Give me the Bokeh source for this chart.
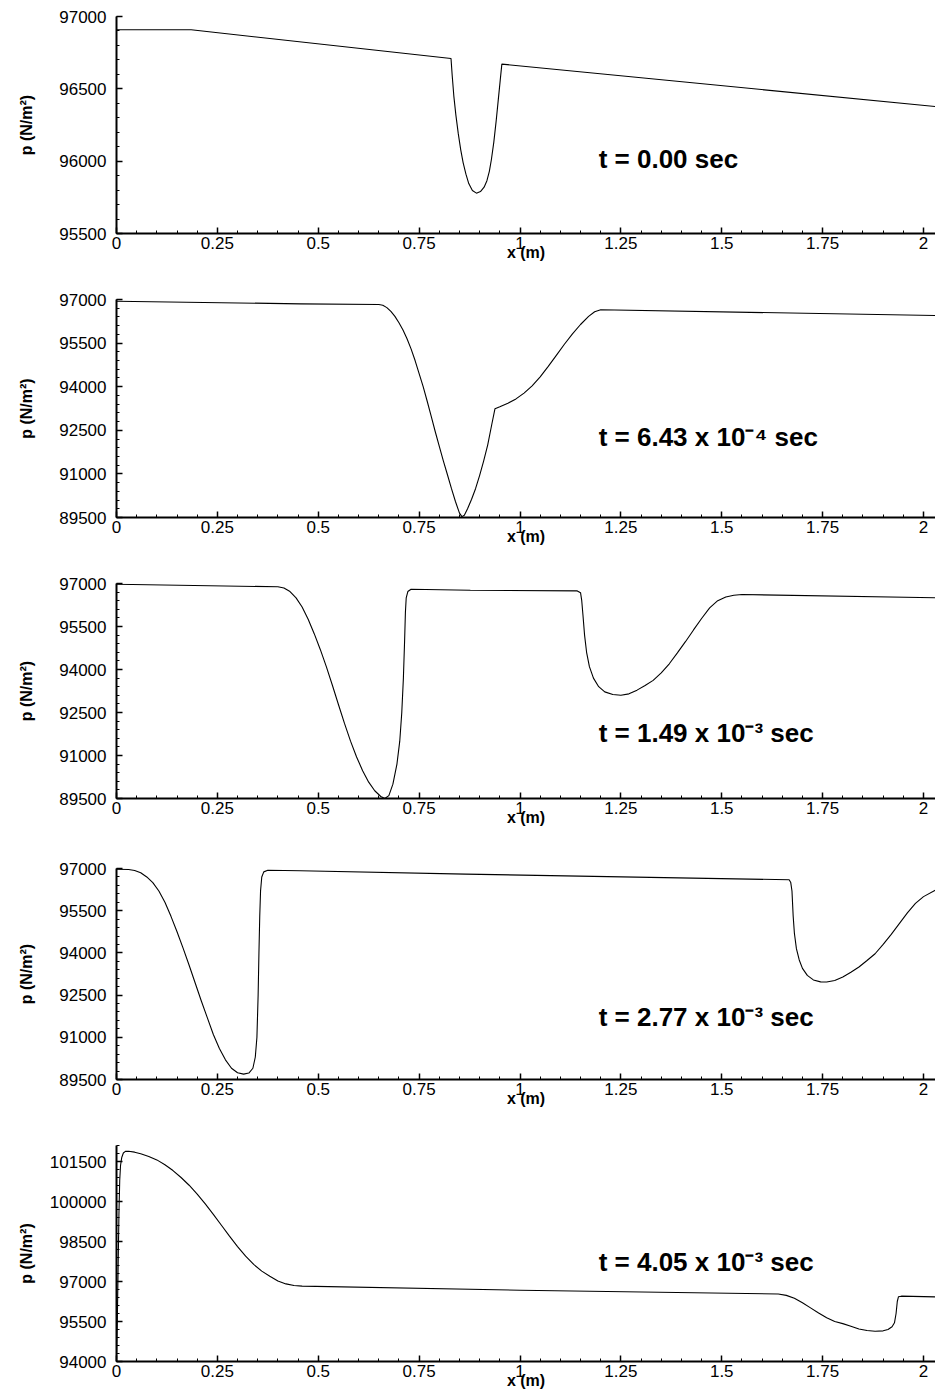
from bokeh.plotting import figure
from bokeh.layouts import column
from bokeh.models import Range1d, FixedTicker, NumeralTickFormatter, Label
from bokeh.embed import file_html
from bokeh.resources import INLINE
import numpy as np

# ---------------- data ----------------
x_ticks = [0, 0.25, 0.5, 0.75, 1, 1.25, 1.5, 1.75, 2]
y_ticks_a = [95500, 96000, 96500, 97000]
y_ticks_b = [89500, 91000, 92500, 94000, 95500, 97000]
y_ticks_c = [94000, 95500, 97000, 98500, 100000, 101500]

time_labels = ["t = 0.00 sec",
               "t = 6.43 x 10\u207b\u2074 sec",
               "t = 1.49 x 10\u207b\u00b3 sec",
               "t = 2.77 x 10\u207b\u00b3 sec",
               "t = 4.05 x 10\u207b\u00b3 sec"]

# t = 0.00 s
x1 = [0.0, 0.185, 0.829, 0.832, 0.836, 0.841, 0.847, 0.853, 0.859, 0.866,
      0.873, 0.882, 0.892, 0.902, 0.911, 0.918, 0.924, 0.929, 0.935, 0.941,
      0.946, 0.951, 0.955, 2.03]
p1 = [96908, 96908, 96710, 96590, 96450, 96320, 96190, 96080, 95990, 95910,
      95845, 95797, 95779, 95790, 95820, 95865, 95930, 96010, 96130, 96280,
      96420, 96560, 96671, 96377]

# t = 6.43e-4 s
x2 = [0.0, 0.456, 0.65, 0.66, 0.67, 0.68, 0.69, 0.70, 0.71, 0.72,
      0.73, 0.74, 0.75, 0.76, 0.77, 0.78, 0.79, 0.80, 0.81, 0.82,
      0.83, 0.84, 0.85, 0.856, 0.862, 0.87, 0.88, 0.89, 0.90, 0.91,
      0.92, 0.93, 0.938, 0.95, 0.97, 0.99, 1.01, 1.03, 1.05, 1.07,
      1.09, 1.11, 1.13, 1.15, 1.17, 1.185, 1.20, 2.03]
p2 = [96942, 96851, 96828, 96800, 96720, 96590, 96420, 96200, 95950, 95650,
      95300, 94900, 94450, 94000, 93500, 92980, 92450, 91950, 91450, 90980,
      90500, 90050, 89650, 89530, 89580, 89800, 90130, 90500, 90950, 91450,
      92000, 92700, 93245, 93310, 93430, 93580, 93780, 94030, 94340, 94700,
      95080, 95460, 95820, 96140, 96420, 96580, 96645, 96450]

# t = 1.49e-3 s
x3 = [0.0, 0.40, 0.415, 0.43, 0.445, 0.46, 0.475, 0.49, 0.505, 0.52,
      0.535, 0.55, 0.565, 0.58, 0.595, 0.61, 0.625, 0.64, 0.655, 0.665,
      0.675, 0.685, 0.695, 0.702, 0.707, 0.711, 0.714, 0.716, 0.718, 0.722,
      0.73, 0.877, 1.142, 1.150, 1.153, 1.156, 1.160, 1.165, 1.172, 1.182,
      1.195, 1.21, 1.23, 1.25, 1.27, 1.29, 1.31, 1.33, 1.35, 1.37,
      1.39, 1.41, 1.43, 1.45, 1.47, 1.49, 1.51, 1.53, 1.55, 2.03]
p3 = [96975, 96885, 96840, 96720, 96500, 96180, 95750, 95250, 94700, 94100,
      93450, 92780, 92120, 91500, 90950, 90470, 90070, 89770, 89570, 89500,
      89600, 90000, 90700, 91500, 92500, 93700, 95000, 96000, 96500, 96720,
      96800, 96766, 96742, 96680, 96400, 95900, 95200, 94600, 94100, 93700,
      93400, 93220, 93130, 93104, 93150, 93280, 93440, 93620, 93880, 94200,
      94580, 94970, 95380, 95780, 96150, 96400, 96530, 96590, 96616, 96500]

# t = 2.77e-3 s
x4 = [0.0, 0.03, 0.045, 0.06, 0.075, 0.09, 0.105, 0.12, 0.135, 0.15,
      0.165, 0.18, 0.195, 0.21, 0.225, 0.24, 0.255, 0.27, 0.285, 0.30,
      0.315, 0.328, 0.338, 0.344, 0.348, 0.351, 0.353, 0.355, 0.357, 0.36,
      0.365, 0.375, 0.456, 0.865, 1.667, 1.671, 1.674, 1.677, 1.68, 1.685,
      1.692, 1.70, 1.712, 1.727, 1.745, 1.76, 1.78, 1.80, 1.82, 1.84,
      1.86, 1.88, 1.90, 1.92, 1.94, 1.96, 1.98, 2.00, 2.03]
p4 = [96979, 96965, 96930, 96850, 96700, 96500, 96200, 95800, 95300, 94750,
      94170, 93560, 92930, 92300, 91700, 91100, 90600, 90200, 89900, 89740,
      89690, 89730, 89900, 90300, 91000, 92500, 94000, 95300, 96200, 96700,
      96880, 96940, 96918, 96801, 96599, 96500, 96200, 95300, 94700, 94150,
      93750, 93450, 93200, 93040, 92970, 92965, 93020, 93140, 93310, 93500,
      93730, 93970, 94300, 94660, 95040, 95420, 95760, 96000, 96234]

# t = 4.05e-3 s
x5 = [0.0, 0.002, 0.004, 0.006, 0.008, 0.010, 0.013, 0.017, 0.022, 0.03,
      0.045, 0.06, 0.08, 0.10, 0.12, 0.14, 0.16, 0.18, 0.20, 0.22,
      0.24, 0.26, 0.28, 0.30, 0.32, 0.34, 0.36, 0.38, 0.40, 0.42,
      0.44, 0.46, 1.0, 1.64, 1.66, 1.68, 1.70, 1.72, 1.74, 1.76,
      1.78, 1.80, 1.82, 1.84, 1.86, 1.88, 1.90, 1.912, 1.922, 1.928,
      1.932, 1.935, 1.938, 1.945, 2.031]
p5 = [94000, 95500, 97500, 99500, 100800, 101350, 101650, 101820, 101880, 101885,
      101850, 101790, 101690, 101560, 101380, 101160, 100900, 100610, 100280, 99910,
      99520, 99110, 98700, 98310, 97950, 97640, 97390, 97200, 97020, 96910,
      96850, 96825, 96674, 96530, 96480, 96370, 96200, 96010, 95820, 95640,
      95500, 95420, 95320, 95220, 95160, 95136, 95150, 95200, 95300, 95450,
      95800, 96250, 96430, 96450, 96424]

# ---------------- layout / styling ----------------
FONT = "Liberation Sans"
X_END = 2.0297


def make_panel(xs, ps, yticks, ymin, ymax, top, fh, bottom, label, label_y, ylab_standoff):
    p = figure(frame_width=819, frame_height=fh,
               min_border_left=116, min_border_right=0,
               min_border_top=top, min_border_bottom=bottom,
               x_range=Range1d(0, X_END), y_range=Range1d(ymin, ymax),
               output_backend="svg", toolbar_location=None)
    p.outline_line_color = None
    p.xgrid.visible = False
    p.ygrid.visible = False
    p.background_fill_color = "white"
    p.border_fill_color = "white"

    p.line(xs, ps, line_color="black", line_width=1.1)

    ystep = (yticks[1] - yticks[0]) / 5.0
    yminor = list(np.arange(ymin, ymax + 1, ystep))
    xminor = list(np.round(np.arange(0, X_END, 0.05), 3))
    p.xaxis.ticker = FixedTicker(ticks=x_ticks, minor_ticks=xminor)
    p.yaxis.ticker = FixedTicker(ticks=yticks, minor_ticks=yminor)
    p.xaxis.formatter = NumeralTickFormatter(format="0.[00]")
    p.yaxis.formatter = NumeralTickFormatter(format="0")

    for ax in (p.xaxis, p.yaxis):
        ax.axis_line_width = 2
        ax.axis_line_color = "black"
        ax.major_tick_in = 6
        ax.major_tick_out = 0
        ax.minor_tick_in = 3
        ax.minor_tick_out = 0
        ax.major_tick_line_width = 1.5
        ax.minor_tick_line_width = 1
        ax.major_label_text_font = FONT
        ax.major_label_text_font_size = "17px"
        ax.major_label_text_color = "black"
        ax.axis_label_text_font = FONT
        ax.axis_label_text_font_size = "16px"
        ax.axis_label_text_font_style = "bold"
        ax.axis_label_text_color = "black"

    p.xaxis.axis_label = "x (m)"
    p.xaxis.major_label_standoff = 3
    p.xaxis.axis_label_standoff = -8
    p.yaxis.axis_label = "p (N/m\u00b2)"
    p.yaxis.major_label_standoff = 10
    p.yaxis.axis_label_standoff = ylab_standoff

    p.add_layout(Label(x=1.195, y=label_y, text=label, text_font=FONT,
                       text_font_size="26px", text_font_style="bold",
                       text_color="black", text_baseline="alphabetic",
                       text_align="left"))
    return p


f1 = make_panel(x1, p1, y_ticks_a, 95500, 97000, 16, 217, 47, time_labels[0], 96016, 21)
f2 = make_panel(x2, p2, y_ticks_b, 89500, 97000, 19, 218, 48, time_labels[1], 92253, 21)
f3 = make_panel(x3, p3, y_ticks_b, 89500, 97000, 18, 215, 47, time_labels[2], 91768, 21)
f4 = make_panel(x4, p4, y_ticks_b, 89500, 97000, 23, 211, 46, time_labels[3], 91714, 21)
f5 = make_panel(x5, p5, y_ticks_c, 94000, 102100, 20, 216, 37, time_labels[4], 97713, 12)

layout = column(f1, f2, f3, f4, f5, spacing=0)

open("out.html", "w").write(file_html(layout, INLINE))
